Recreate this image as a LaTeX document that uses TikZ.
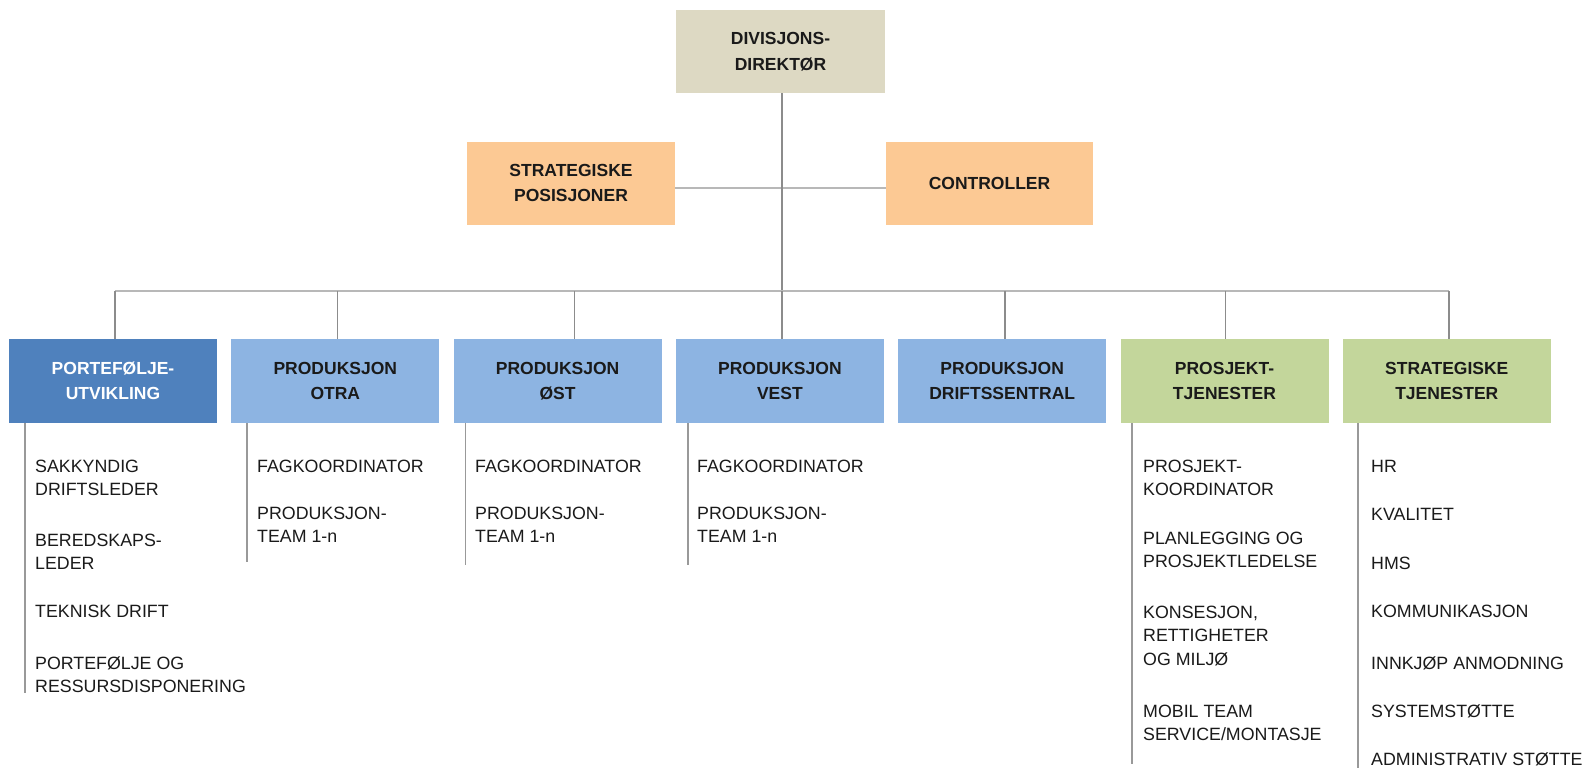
\documentclass[tikz,border=0pt]{standalone}
\usepackage{fontspec}
\setmainfont{Liberation Sans}
\definecolor{tanc}{HTML}{DDD9C3}
\definecolor{orng}{HTML}{FCC994}
\definecolor{dblue}{HTML}{4F81BD}
\definecolor{lblue}{HTML}{8DB4E2}
\definecolor{grn}{HTML}{C3D69B}
\definecolor{busgray}{HTML}{B8B8B8}
\definecolor{dropgray}{HTML}{8C8C8C}
\definecolor{subgray}{HTML}{999999}
\definecolor{txt}{HTML}{1A1A1A}
\newcommand\itemlines[1]{\begin{tabular}[t]{@{}l@{}}#1\end{tabular}}
\begin{document}
\begin{tikzpicture}[x=1pt,y=-1pt,
  box/.style={draw=none, minimum width=208pt, minimum height=84pt, align=center, inner sep=0pt,
    font=\fontsize{17.5}{25.5}\selectfont\bfseries, text=txt},
  item/.style={anchor=base west, inner sep=0pt,
    font=\fontsize{17.8}{23.7}\selectfont, text=txt},
  bus/.style={draw=busgray, line width=2.6pt},
  drop/.style={draw=dropgray, line width=1.6pt},
  subline/.style={draw=subgray, line width=1.6pt}]
\fill[white] (0,0) rectangle (1585,768);
\useasboundingbox (0,0) rectangle (1585,768);

% top level
\node[box, fill=tanc, minimum width=209pt, minimum height=83pt] (dir) at (780.5,51.5) {DIVISJONS-\\DIREKTØR};
\node[box, fill=orng, minimum width=207.5pt, minimum height=83pt] (sp) at (571,183) {STRATEGISKE\\POSISJONER};
\node[box, fill=orng, minimum width=207pt, minimum height=83pt] (ctl) at (989.5,183) {CONTROLLER};

% level boxes
\node[box, fill=dblue, text=white] (l1) at (113,381) {PORTEFØLJE-\\UTVIKLING};
\node[box, fill=lblue] (l2) at (335.3,381) {PRODUKSJON\\OTRA};
\node[box, fill=lblue] (l3) at (557.6,381) {PRODUKSJON\\ØST};
\node[box, fill=lblue] (l4) at (779.9,381) {PRODUKSJON\\VEST};
\node[box, fill=lblue] (l5) at (1002.2,381) {PRODUKSJON\\DRIFTSSENTRAL};
\node[box, fill=grn] (l6) at (1224.5,381) {PROSJEKT-\\TJENESTER};
\node[box, fill=grn] (l7) at (1446.8,381) {STRATEGISKE\\TJENESTER};

% connectors
\coordinate (busy) at (0,291);
\coordinate (midy) at (0,188);
\draw[bus] (sp.east |- midy) -- (ctl.west |- midy);
\draw[drop] ([xshift=1.5pt]dir.south) -- ([xshift=1.5pt]dir.south |- busy);
\draw[bus] ([xshift=2pt]l1.north |- busy) -- ([xshift=2pt]l7.north |- busy);
\draw[drop] ([xshift=2pt]l1.north) -- ([xshift=2pt]l1.north |- busy);
\draw[drop] ([xshift=2pt]l2.north) -- ([xshift=2pt]l2.north |- busy);
\draw[drop] ([xshift=17pt]l3.north) -- ([xshift=17pt]l3.north |- busy);
\draw[drop] ([xshift=2pt]l4.north) -- ([xshift=2pt]l4.north |- busy);
\draw[drop] ([xshift=3pt]l5.north) -- ([xshift=3pt]l5.north |- busy);
\draw[drop] ([xshift=1pt]l6.north) -- ([xshift=1pt]l6.north |- busy);
\draw[drop] ([xshift=2pt]l7.north) -- ([xshift=2pt]l7.north |- busy);

% sub lines
\coordinate (e1) at (25,693);
\coordinate (e2) at (247,562);
\coordinate (e3) at (465.5,565);
\coordinate (e4) at (688,565);
\coordinate (e6) at (1132,764);
\coordinate (e7) at (1358,768);
\draw[subline] (l1.south -| e1) -- (e1);
\draw[subline] (l2.south -| e2) -- (e2);
\draw[subline] (l3.south -| e3) -- (e3);
\draw[subline] (l4.south -| e4) -- (e4);
\draw[subline] (l6.south -| e6) -- (e6);
\draw[subline] (l7.south -| e7) -- (e7);

% items column 1
\node[item] (a1) at (35,472) {\itemlines{SAKKYNDIG\\DRIFTSLEDER}};
\node[item] (a2) at (35,546) {\itemlines{BEREDSKAPS-\\LEDER}};
\node[item] (a3) at (35,617) {TEKNISK DRIFT};
\node[item] (a4) at (35,669) {\itemlines{PORTEFØLJE OG\\RESSURSDISPONERING}};
% column 2-4
\node[item] (b1) at (257,472) {FAGKOORDINATOR};
\node[item] (b2) at (257,519) {\itemlines{PRODUKSJON-\\TEAM 1-n}};
\node[item] (c1) at (475,472) {FAGKOORDINATOR};
\node[item] (c2) at (475,519) {\itemlines{PRODUKSJON-\\TEAM 1-n}};
\node[item] (d1) at (697,472) {FAGKOORDINATOR};
\node[item] (d2) at (697,519) {\itemlines{PRODUKSJON-\\TEAM 1-n}};
% column 6
\node[item] (f1) at (1143,472) {\itemlines{PROSJEKT-\\KOORDINATOR}};
\node[item] (f2) at (1143,544) {\itemlines{PLANLEGGING OG\\PROSJEKTLEDELSE}};
\node[item] (f3) at (1143,618) {\itemlines{KONSESJON,\\RETTIGHETER\\OG MILJØ}};
\node[item] (f4) at (1143,717) {\itemlines{MOBIL TEAM\\SERVICE/MONTASJE}};
% column 7
\node[item] (g1) at (1371,472) {HR};
\node[item] (g2) at (1371,520) {KVALITET};
\node[item] (g3) at (1371,569) {HMS};
\node[item] (g4) at (1371,617) {KOMMUNIKASJON};
\node[item] (g5) at (1371,669) {INNKJØP ANMODNING};
\node[item] (g6) at (1371,717) {SYSTEMSTØTTE};
\node[item] (g7) at (1371,765) {ADMINISTRATIV STØTTE};
\end{tikzpicture}
\end{document}
